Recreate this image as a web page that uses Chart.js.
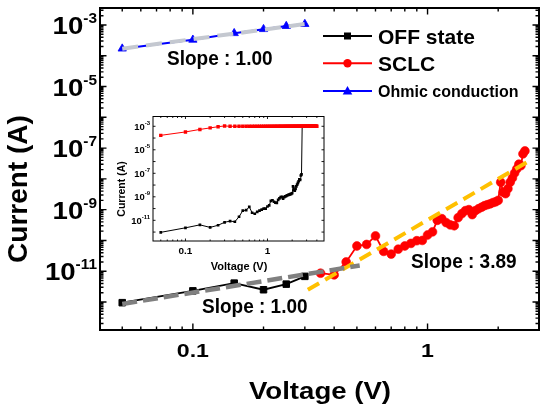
<!DOCTYPE html>
<html><head><meta charset="utf-8">
<script src="https://cdn.jsdelivr.net/npm/chart.js@4.4.1/dist/chart.umd.min.js"></script>
<style>
html,body{margin:0;padding:0;background:#fff;}
#wrap{position:relative;width:550px;height:414px;overflow:hidden;}
canvas{position:absolute;left:0;top:0;}
</style></head><body>
<div id="wrap"><canvas id="main" width="550" height="414"></canvas><canvas id="inset" width="550" height="414"></canvas></div>
<script>
const FONT = '"Liberation Sans", Arial, Helvetica, sans-serif';

// ---------------- data ----------------
const offV = [0.05, 0.10, 0.15, 0.20, 0.25, 0.30];
const offI = [9.5e-13, 2.3e-12, 4.1e-12, 2.5e-12, 3.8e-12, 6.8e-12];

const sclcV = [0.35, 0.40, 0.45, 0.50, 0.55, 0.60, 0.65, 0.70, 0.75, 0.80,
               0.85, 0.90, 0.95, 1.00, 1.05, 1.10, 1.15, 1.20, 1.25, 1.30,
               1.35, 1.40, 1.45, 1.50, 1.55, 1.60, 1.65, 1.70, 1.75, 1.80,
               1.85, 1.90, 1.95, 2.00, 2.05, 2.10, 2.15, 2.20, 2.25, 2.30,
               2.35, 2.40, 2.45, 2.50, 2.55, 2.60];
const sclcI = [8.6e-12, 7.6e-12, 2.0e-11, 6.6e-11, 7.4e-11, 1.4e-10, 4.4e-11, 3.6e-11, 5.2e-11, 6.6e-11,
               8.0e-11, 9.8e-11, 1.0e-10, 1.5e-10, 1.9e-10, 4.5e-10, 5.1e-10, 3.8e-10, 3.2e-10, 3.0e-10,
               5.5e-10, 7.4e-10, 9.3e-10, 1.0e-9, 6.9e-10, 9.3e-10, 1.07e-9, 1.2e-9, 1.35e-9, 1.45e-9,
               1.55e-9, 1.7e-9, 1.8e-9, 2.0e-9, 7.8e-9, 3.7e-9, 3.3e-9, 4.8e-9, 7.8e-9, 1.07e-8,
               1.55e-8, 2.1e-8, 3.0e-8, 2.7e-8, 6.5e-8, 8.1e-8];

const ohmV = [0.05, 0.10, 0.15, 0.20, 0.25, 0.30];
const ohmI = [1.7e-4, 3.3e-4, 5.4e-4, 7.3e-4, 9.2e-4, 1.07e-3];

// fitted lines (end points)
const offFitV = [0.050, 0.514];
const offFitI = [8.6e-13, 1.53e-11];
const sclcFitV = [0.309, 2.72];
const sclcFitI = [2.5e-12, 3.9e-8];
const ohmFitV = [0.05, 0.30];
const ohmFitI = [1.7e-4, 1.07e-3];

// inset: full sweep (compliance current after set)
const complianceV = [0.35,0.40,0.45,0.50,0.55,0.60,0.65,0.70,0.75,0.80,0.85,0.90,0.95,1.00,
  1.05,1.10,1.15,1.20,1.25,1.30,1.35,1.40,1.45,1.50,1.55,1.60,1.65,1.70,1.75,1.80,1.85,1.90,
  1.95,2.00,2.05,2.10,2.15,2.20,2.25,2.30,2.35,2.40,2.45,2.50,2.55,2.60,2.65,2.70,2.75,2.80,
  2.85,2.90,2.95,3.00,3.05,3.10,3.15,3.20,3.25,3.30,3.35,3.40,3.45,3.50,3.55,3.60,3.65,3.70,
  3.75,3.80,3.85,3.90,3.95,4.00];
const complianceI = 1e-3;
const setV = [2.65];
const setI = [1e-3];

const legendLabels = ['OFF state', 'SCLC', 'Ohmic conduction'];
const slopeLabels = ['Slope : 1.00', 'Slope : 1.00', 'Slope : 3.89'];
const xTickValues = [0.1, 1];
const xTickLabels = ['0.1', '1'];
const yTickExps = [-3, -5, -7, -9, -11];
const xTitle = 'Voltage (V)';
const yTitle = 'Current (A)';

// ---------------- helpers ----------------
const pts = (V, I) => V.map((v, i) => ({x: v, y: Array.isArray(I) ? I[i] : I}));

function text(ctx, s, x, y, size, o = {}) {
  ctx.save();
  ctx.font = `bold ${size}px ${FONT}`;
  ctx.fillStyle = '#000';
  ctx.textAlign = o.align || 'left';
  ctx.textBaseline = o.baseline || 'alphabetic';
  ctx.translate(x, y);
  if (o.rot) ctx.rotate(o.rot);
  ctx.scale(o.sx || 1, 1);
  ctx.fillText(s, 0, 0);
  ctx.restore();
}
function supLabel(ctx, exp, right, ty, c) {
  ctx.save();
  ctx.font = `bold ${c.sup}px ${FONT}`;
  const es = String(exp);
  const we = ctx.measureText(es).width * c.sxS;
  ctx.restore();
  text(ctx, '10', right - we, ty + c.dyB, c.base, {align: 'right', sx: c.sxB});
  text(ctx, es, right - we, ty + c.dyS, c.sup, {align: 'left', sx: c.sxS});
}
function logTicks(min, max) {
  const major = [], minor = [];
  for (let e = Math.floor(Math.log10(min)); e <= Math.ceil(Math.log10(max)); e++) {
    for (let m = 1; m < 10; m++) {
      const v = m * Math.pow(10, e);
      if (v < min * 0.9999 || v > max * 1.0001) continue;
      (m === 1 ? major : minor).push(v);
    }
  }
  return {major, minor};
}
function drawFrame(chart, c) {
  const {ctx, chartArea: a, scales: {x, y}} = chart;
  ctx.save();
  ctx.strokeStyle = '#000';
  ctx.lineWidth = c.tickW;
  ctx.beginPath();
  const xt = logTicks(x.min, x.max), yt = logTicks(y.min, y.max);
  const addX = (v, len) => { const p = x.getPixelForValue(v);
    ctx.moveTo(p, a.bottom); ctx.lineTo(p, a.bottom - len);
    ctx.moveTo(p, a.top); ctx.lineTo(p, a.top + len); };
  const addY = (v, len) => { const p = y.getPixelForValue(v);
    ctx.moveTo(a.left, p); ctx.lineTo(a.left + len, p);
    ctx.moveTo(a.right, p); ctx.lineTo(a.right - len, p); };
  xt.major.forEach(v => addX(v, c.majLen));
  if (c.xMinor) xt.minor.forEach(v => addX(v, c.minLen));
  yt.major.forEach(v => addY(v, c.majLen));
  if (c.yMinor) yt.minor.forEach(v => addY(v, c.minLen));
  ctx.stroke();
  ctx.lineWidth = c.frameW;
  ctx.strokeRect(a.left, a.top, a.right - a.left, a.bottom - a.top);
  ctx.restore();
}
function legendItem(ctx, y, color, style, label, size, baseline) {
  ctx.save();
  ctx.strokeStyle = color; ctx.fillStyle = color; ctx.lineWidth = 2;
  ctx.beginPath(); ctx.moveTo(323, y); ctx.lineTo(372, y); ctx.stroke();
  const cx = 347.5;
  ctx.beginPath();
  if (style === 'rect') ctx.rect(cx - 3.5, y - 3.5, 7, 7);
  else if (style === 'circle') ctx.arc(cx, y, 4.2, 0, Math.PI * 2);
  else { ctx.moveTo(cx, y - 5); ctx.lineTo(cx + 4.8, y + 3.4); ctx.lineTo(cx - 4.8, y + 3.4); ctx.closePath(); }
  ctx.fill();
  ctx.restore();
  text(ctx, label, 378, baseline, size);
}

Chart.defaults.font.family = FONT;

// ---------------- main chart ----------------
const mainPlugin = {
  id: 'mainDeco',
  afterDraw(chart) {
    const {ctx, scales: {x, y}} = chart;
    drawFrame(chart, {frameW: 2, tickW: 1.4, majLen: 6.5, minLen: 3.5, xMinor: true, yMinor: true});
    xTickValues.forEach((v, i) => text(ctx, xTickLabels[i], x.getPixelForValue(v), 357, 19, {align: 'center', sx: 1.22}));
    yTickExps.forEach(e => supLabel(ctx, e, 97, y.getPixelForValue(Math.pow(10, e)),
      {base: 23, sup: 14, sxB: 1.2, sxS: 1.1, dyB: 9, dyS: -2}));
    text(ctx, xTitle, 320, 399, 23, {align: 'center', sx: 1.2});
    text(ctx, yTitle, 27, 189, 28, {align: 'center', rot: -Math.PI / 2});
    legendItem(ctx, 36, '#000000', 'rect', legendLabels[0], 21, 43.5);
    legendItem(ctx, 63.3, '#ff0000', 'circle', legendLabels[1], 21, 70.7);
    legendItem(ctx, 91, '#0000ff', 'triangle', legendLabels[2], 16, 97);
    text(ctx, slopeLabels[0], 167, 65, 20, {sx: 0.95});
    text(ctx, slopeLabels[1], 202, 313, 20, {sx: 0.95});
    text(ctx, slopeLabels[2], 411, 268, 20, {sx: 0.95});
  }
};

new Chart(document.getElementById('main'), {
  type: 'scatter',
  data: {datasets: [
    {label: 'ohmFit', data: pts(ohmFitV, ohmFitI), showLine: true, borderColor: '#c4c8d0', borderWidth: 4,
     borderDash: [16, 8], pointRadius: 0, order: 0},
    {label: 'offFit', data: pts(offFitV, offFitI), showLine: true, borderColor: '#808080', borderWidth: 4.5,
     borderDash: [15, 6], pointRadius: 0, order: 0},
    {label: 'sclcFit', data: pts(sclcFitV, sclcFitI), showLine: true, borderColor: '#ffc000', borderWidth: 4,
     borderDash: [13, 7], pointRadius: 0, order: 0},
    {label: legendLabels[1], data: pts(sclcV, sclcI), showLine: true, borderColor: '#ff0000', borderWidth: 1.8,
     pointStyle: 'circle', pointRadius: 4.4, pointBackgroundColor: '#ff0000', pointBorderColor: '#ff0000', pointBorderWidth: 0.6, order: 1},
    {label: legendLabels[0], data: pts(offV, offI), showLine: true, borderColor: '#000000', borderWidth: 1.8,
     pointStyle: 'rect', pointRadius: 4.6, pointBackgroundColor: '#000', pointBorderColor: '#000', pointBorderWidth: 1, order: 2},
    {label: legendLabels[2], data: pts(ohmV, ohmI), showLine: true, borderColor: '#0000ff', borderWidth: 2,
     pointStyle: 'triangle', pointRadius: 4.8, pointBackgroundColor: '#0000ff', pointBorderColor: '#0000ff', pointBorderWidth: 0.8, order: 2}
  ]},
  options: {
    responsive: false, animation: false,
    layout: {padding: {left: 100, right: 11, top: 8, bottom: 84}},
    plugins: {legend: {display: false}, tooltip: {enabled: false}},
    scales: {
      x: {type: 'logarithmic', min: 0.0402, max: 2.985, display: false},
      y: {type: 'logarithmic', min: 1.23e-13, max: 3.56e-3, display: false}
    }
  },
  plugins: [mainPlugin]
});

// ---------------- inset chart ----------------
const insetPlugin = {
  id: 'insetDeco',
  beforeDraw(chart) {
    const {ctx, chartArea: a} = chart;
    ctx.save(); ctx.fillStyle = '#fff';
    ctx.fillRect(a.left, a.top, a.right - a.left, a.bottom - a.top);
    ctx.restore();
  },
  afterDraw(chart) {
    const {ctx, scales: {x, y}} = chart;
    drawFrame(chart, {frameW: 1, tickW: 0.9, majLen: 2.5, minLen: 1.5, xMinor: true, yMinor: false});
    xTickValues.forEach((v, i) => text(ctx, xTickLabels[i], x.getPixelForValue(v), 254, 9.5, {align: 'center', sx: 1.05}));
    yTickExps.forEach(e => supLabel(ctx, e, 150, y.getPixelForValue(Math.pow(10, e)),
      {base: 9, sup: 6, sxB: 1.05, sxS: 1.0, dyB: 3.3, dyS: -1.5}));
    text(ctx, xTitle, 239, 269.5, 11, {align: 'center'});
    text(ctx, yTitle, 124.5, 189, 10.5, {align: 'center', rot: -Math.PI / 2});
  }
};

new Chart(document.getElementById('inset'), {
  type: 'scatter',
  data: {datasets: [
    {label: 'ON', data: pts(ohmV, ohmI).concat(pts(complianceV, complianceI)), showLine: true,
     borderColor: '#ff0000', borderWidth: 1, pointStyle: 'rect', pointRadius: 2.4,
     pointBackgroundColor: '#ff0000', pointBorderWidth: 0},
    {label: 'OFF', data: pts(offV, offI).concat(pts(sclcV, sclcI), pts(setV, setI)), showLine: true,
     borderColor: '#000000', borderWidth: 1, pointStyle: 'rect', pointRadius: 1.9,
     pointBackgroundColor: '#000', pointBorderWidth: 0}
  ]},
  options: {
    responsive: false, animation: false,
    layout: {padding: {left: 153, right: 226, top: 116.5, bottom: 173}},
    plugins: {legend: {display: false}, tooltip: {enabled: false}},
    scales: {
      x: {type: 'logarithmic', min: 0.0402, max: 4.89, display: false},
      y: {type: 'logarithmic', min: 1.74e-13, max: 6.8e-3, display: false}
    }
  },
  plugins: [insetPlugin]
});
</script></body></html>
